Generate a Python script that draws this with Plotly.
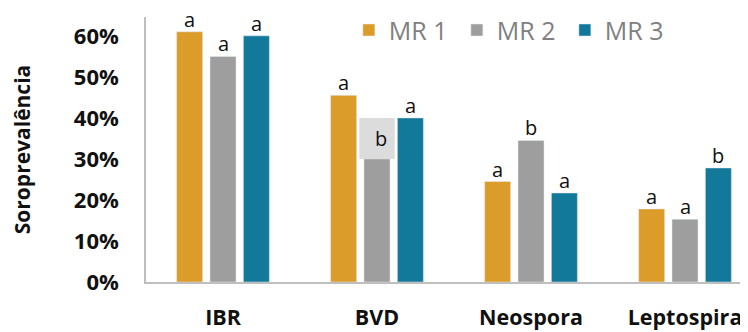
import plotly.graph_objects as go

categories = ["IBR", "BVD", "Neospora", "Leptospira"]
series_names = ["MR 1", "MR 2", "MR 3"]
mr1 = [0.61, 0.455, 0.245, 0.178]
mr2 = [0.55, 0.30, 0.345, 0.153]
mr3 = [0.60, 0.40, 0.217, 0.278]
labels_mr1 = ["a", "a", "a", "a"]
labels_mr2 = ["a", "", "b", "a"]
labels_mr3 = ["a", "a", "a", "b"]
boxed_label = {"category": "BVD", "text": "b", "low": 0.30, "high": 0.40}

colors = ["#DB9C2A", "#9E9E9E", "#12799B"]
FONT = "Open Sans"
BARGAP = 0.35
slot = (1 - BARGAP) / len(series_names)

fig = go.Figure()
all_vals = [mr1, mr2, mr3]
all_labs = [labels_mr1, labels_mr2, labels_mr3]
for name, vals, col in zip(series_names, all_vals, colors):
    fig.add_trace(go.Bar(x=categories, y=vals, name=name, marker_color=col,
                         offsetgroup=name))

# significance letters above the bars
for i, (vals, labs) in enumerate(zip(all_vals, all_labs)):
    for j, (v, lab) in enumerate(zip(vals, labs)):
        if not lab:
            continue
        fig.add_annotation(x=j + (i - 1) * slot, y=v, xref="x", yref="y", text=lab,
                           showarrow=False, yanchor="bottom", yshift=-3,
                           font=dict(family=FONT, size=20, color="#111111"))

# boxed label on BVD / MR 2
bj = categories.index(boxed_label["category"])
fig.add_shape(type="rect", xref="x", yref="y",
              x0=bj - 0.115, x1=bj + 0.115, y0=boxed_label["low"], y1=boxed_label["high"],
              fillcolor="#DCDCDC", line_width=0, layer="above")
fig.add_annotation(x=bj, y=(boxed_label["low"] + boxed_label["high"]) / 2,
                   xref="x", yref="y", text=boxed_label["text"], showarrow=False,
                   xshift=4, font=dict(family=FONT, size=20, color="#111111"))

# page body has an 8px margin: the figure is sized/offset to compensate
fig.update_layout(
    width=740, height=324,
    margin=dict(l=138, r=0, t=9, b=50, autoexpand=False),
    plot_bgcolor="white", paper_bgcolor="white",
    barmode="group", bargap=BARGAP, bargroupgap=0.22,
    showlegend=True,
    legend=dict(orientation="h", x=0.337, y=0.95, xanchor="left", yanchor="middle",
                font=dict(family=FONT, size=25, color="#7F7F7F"),
                entrywidth=63, entrywidthmode="pixels",
                bgcolor="rgba(0,0,0,0)", itemwidth=30, traceorder="normal"),
    font=dict(family=FONT),
)
fig.update_xaxes(range=[-0.5, 3.409], showline=True, linecolor="#BFBFBF", linewidth=1.5,
                 ticks="", tickfont=dict(family=FONT, size=21.5, color="#111111", weight="bold"),
                 ticklabelstandoff=15, showgrid=False, zeroline=False, automargin=False)
fig.update_yaxes(range=[0, 0.646], tickvals=[0, 0.1, 0.2, 0.3, 0.4, 0.5, 0.6],
                 tickformat=".0%", showline=True, linecolor="#BFBFBF", linewidth=1.5,
                 ticks="", ticklabelstandoff=21, showgrid=False, zeroline=False, automargin=False,
                 tickfont=dict(family=FONT, size=22, color="#111111", weight="bold"),
                 title=dict(text="Soroprevalência", standoff=39,
                            font=dict(family=FONT, size=21, color="#111111", weight="bold")))

fig.write_html("out.html")
